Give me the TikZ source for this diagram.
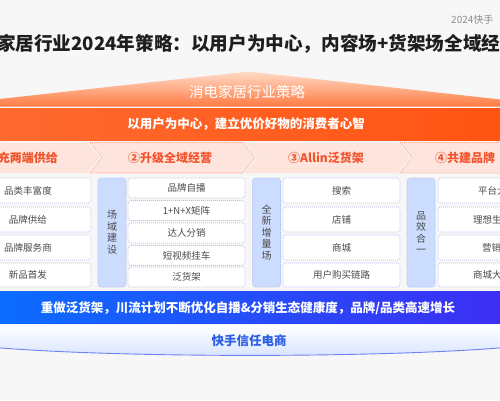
\documentclass[tikz,border=0pt]{standalone}
\usepackage{fontspec}
\setmainfont{Noto Sans CJK SC}
\definecolor{bg}{HTML}{F7F7F8}
\definecolor{titlec}{HTML}{1E1E1E}
\definecolor{grayc}{HTML}{8C8C8C}
\definecolor{rooftop}{HTML}{FFDCC8}
\definecolor{roofbot}{HTML}{FF7A42}
\definecolor{barl}{HTML}{FF6A30}
\definecolor{barr}{HTML}{FF5412}
\definecolor{chevfill}{HTML}{FDE4DD}
\definecolor{chevline}{HTML}{F6A592}
\definecolor{chevtext}{HTML}{F2542D}
\definecolor{boxline}{HTML}{B6C0F2}
\definecolor{sidefill}{HTML}{CCDCFF}
\definecolor{sideline}{HTML}{A2B8F4}
\definecolor{boxtext}{HTML}{4A4A4A}
\definecolor{bluel}{HTML}{0B6DFF}
\definecolor{bluer}{HTML}{3D2EF2}
\definecolor{bandbot}{HTML}{D6E2FF}
\definecolor{bandline}{HTML}{6F82F3}
\definecolor{bandtext}{HTML}{2C5FE6}
\begin{document}
\begin{tikzpicture}[x=1pt,y=-1pt,
  cbox/.style={draw=boxline, dash pattern=on 1pt off 1pt, line width=0.6pt, rounded corners=3pt, fill=white, inner sep=0pt, text=boxtext, font=\fontsize{9.5}{11}\selectfont},
  side/.style={draw=sideline, dash pattern=on 1pt off 1pt, line width=0.6pt, rounded corners=3pt, fill=sidefill, inner sep=0pt, text=boxtext, align=center, font=\fontsize{10}{11.5}\selectfont, minimum width=28pt, minimum height=109pt},
  chev/.style={fill=chevfill},
  chevd/.style={fill=chevfill, draw=chevline, dash pattern=on 1pt off 1pt, line width=0.6pt},
  chevt/.style={text=chevtext, font=\fontsize{12}{14}\selectfont\bfseries, inner sep=0pt}]
\useasboundingbox (0,0) rectangle (500,400);
\clip (0,0) rectangle (500,400);
\fill[bg] (0,0) rectangle (500,400);

% header
\node[anchor=west, text=grayc, font=\fontsize{10}{11}\selectfont, inner sep=0pt] (tag) at (451,20) {2024快手};
\node[anchor=west, text=titlec, font=\fontsize{18.6}{21}\selectfont\bfseries, inner sep=0pt] (title) at (-3,44) {家居行业2024年策略：以用户为中心，内容场+货架场全域经};

% roof
\shade[top color=rooftop, bottom color=roofbot] (-5,99.5) -- (248,71.5) -- (505,100) -- (505,106.5) -- (-5,106.5) -- cycle;
\node[text=white, font=\fontsize{14.5}{16}\selectfont, inner sep=0pt] (roof) at (247,92) {消电家居行业策略};

% orange bar
\shade[left color=barl, right color=barr] (-5,108) rectangle (505,140);
\node[text=white, font=\fontsize{12.5}{14}\selectfont\bfseries, inner sep=0pt] (mind) at (246,124) {以用户为中心，建立优价好物的消费者心智};

% chevrons
\path[chev] (-30,142.5) -- (88,142.5) -- (100,157.5) -- (88,173) -- (-30,173) -- cycle;
\path[chevd] (90,142.5) -- (243,142.5) -- (255,157.5) -- (243,173) -- (90,173) -- (102,157.5) -- cycle;
\path[chev] (245,142.5) -- (398,142.5) -- (410,157.5) -- (398,173) -- (245,173) -- (257,157.5) -- cycle;
\path[chevd] (400,142.5) -- (560,142.5) -- (560,173) -- (400,173) -- (412,157.5) -- cycle;
\node[chevt, anchor=east] (c1) at (58,157.5) {充两端供给};
\node[chevt] (c2) at (170,157.5) {②升级全域经营};
\node[chevt] (c3) at (326,157.5) {③Allin泛货架};
\node[chevt, anchor=west] (c4) at (435,157.5) {④共建品牌};

% column 1
\node[cbox, minimum width=126pt, minimum height=25pt] (a1) at (28,190.5) {品类丰富度};
\node[cbox, minimum width=126pt, minimum height=25pt] (a2) at (28,219.5) {品牌供给};
\node[cbox, minimum width=126pt, minimum height=25pt] (a3) at (28,247.5) {品牌服务商};
\node[cbox, minimum width=126pt, minimum height=24pt] (a4) at (28,275) {新品首发};

% column 2
\node[side] (s2) at (112,232.5) {场\\域\\建\\设};
\node[cbox, minimum width=117pt, minimum height=20pt] (b1) at (186.5,188) {品牌自播};
\node[cbox, minimum width=117pt, minimum height=20pt] (b2) at (186.5,210.5) {1+N+X矩阵};
\node[cbox, minimum width=117pt, minimum height=20pt] (b3) at (186.5,233) {达人分销};
\node[cbox, minimum width=117pt, minimum height=20pt] (b4) at (186.5,255.5) {短视频挂车};
\node[cbox, minimum width=117pt, minimum height=20pt] (b5) at (186.5,277) {泛货架};

% column 3
\node[side] (s3) at (266.5,232.5) {全\\新\\增\\量\\场};
\node[cbox, minimum width=117pt, minimum height=25pt] (d1) at (341.5,190.5) {搜索};
\node[cbox, minimum width=117pt, minimum height=25pt] (d2) at (341.5,219.5) {店铺};
\node[cbox, minimum width=117pt, minimum height=25pt] (d3) at (341.5,247.5) {商城};
\node[cbox, minimum width=117pt, minimum height=24pt] (d4) at (341.5,275) {用户购买链路};

% column 4
\node[side] (s4) at (421,232.5) {品\\效\\合\\一};
\node[cbox, minimum width=117pt, minimum height=25pt] (e1) at (496.5,190.5) {};
\node[cbox, minimum width=117pt, minimum height=25pt] (e2) at (496.5,219.5) {};
\node[cbox, minimum width=117pt, minimum height=25pt] (e3) at (496.5,247.5) {};
\node[cbox, minimum width=117pt, minimum height=24pt] (e4) at (496.5,275) {};
\node[anchor=west, text=boxtext, font=\fontsize{9.5}{11}\selectfont, inner sep=0pt] (e1t) at (478,190.5) {平台大};
\node[anchor=west, text=boxtext, font=\fontsize{9.5}{11}\selectfont, inner sep=0pt] (e2t) at (473,219.5) {理想生};
\node[anchor=west, text=boxtext, font=\fontsize{9.5}{11}\selectfont, inner sep=0pt] (e3t) at (482,247.5) {营销};
\node[anchor=west, text=boxtext, font=\fontsize{9.5}{11}\selectfont, inner sep=0pt] (e4t) at (473,275) {商城大};

% blue bar
\shade[left color=bluel, right color=bluer] (-5,291) rectangle (505,323);
\node[text=white, font=\fontsize{12.5}{14}\selectfont\bfseries, inner sep=0pt] (goal) at (248,308) {重做泛货架，川流计划不断优化自播\&分销生态健康度，品牌/品类高速增长};

% bottom band
\shade[top color=white, bottom color=bandbot] (-5,325) -- (505,325) -- (505,347.5) .. controls (380,358) and (120,358) .. (-5,347.5) -- cycle;
\draw[bandline, line width=0.9pt] (-5,347.5) .. controls (120,358) and (380,358) .. (505,347.5);
\node[text=bandtext, font=\fontsize{12.5}{14}\selectfont\bfseries, inner sep=0pt] (trust) at (249,341) {快手信任电商};
\end{tikzpicture}
\end{document}
